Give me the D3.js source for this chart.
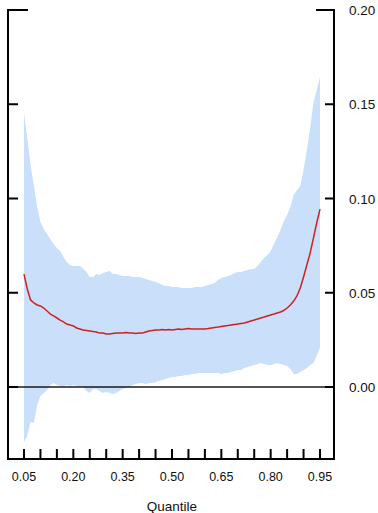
<!DOCTYPE html>
<html>
<head>
<meta charset="utf-8">
<script src="https://cdn.jsdelivr.net/npm/d3@7"></script>
<style>
  html, body { margin: 0; padding: 0; background: #fff; }
  svg { display: block; font-family: "Liberation Sans", Arial, sans-serif; }
</style>
</head>
<body>
<div id="chart"></div>
<script>
// quantile grid
const quantiles = [
  0.05, 0.06, 0.07, 0.08, 0.09, 0.10, 0.11, 0.12, 0.13, 0.14,
  0.15, 0.16, 0.17, 0.18, 0.19, 0.20, 0.21, 0.22, 0.23, 0.24,
  0.25, 0.26, 0.27, 0.28, 0.29, 0.30, 0.31, 0.32, 0.33, 0.34,
  0.35, 0.36, 0.37, 0.38, 0.39, 0.40, 0.41, 0.42, 0.43, 0.44,
  0.45, 0.46, 0.47, 0.48, 0.49, 0.50, 0.51, 0.52, 0.53, 0.54,
  0.55, 0.56, 0.57, 0.58, 0.59, 0.60, 0.61, 0.62, 0.63, 0.64,
  0.65, 0.66, 0.67, 0.68, 0.69, 0.70, 0.71, 0.72, 0.73, 0.74,
  0.75, 0.76, 0.77, 0.78, 0.79, 0.80, 0.81, 0.82, 0.83, 0.84,
  0.85, 0.86, 0.87, 0.88, 0.89, 0.90, 0.91, 0.92, 0.93, 0.94,
  0.95
];

// upper edge of the band
const upper = [
  0.1454, 0.1321, 0.1178, 0.1066, 0.0955, 0.0875, 0.0838, 0.0812, 0.0785, 0.0759,
  0.0737, 0.0721, 0.0690, 0.0663, 0.0647, 0.0642, 0.0642, 0.0642, 0.0626, 0.0610,
  0.0584, 0.0584, 0.0599, 0.0594, 0.0605, 0.0610, 0.0615, 0.0599, 0.0599, 0.0594,
  0.0589, 0.0589, 0.0589, 0.0584, 0.0584, 0.0584, 0.0578, 0.0573, 0.0568, 0.0562,
  0.0557, 0.0552, 0.0541, 0.0536, 0.0536, 0.0531, 0.0531, 0.0531, 0.0525, 0.0525,
  0.0525, 0.0525, 0.0531, 0.0531, 0.0531, 0.0536, 0.0541, 0.0546, 0.0552, 0.0568,
  0.0578, 0.0584, 0.0589, 0.0594, 0.0605, 0.0610, 0.0610, 0.0615, 0.0621, 0.0626,
  0.0626, 0.0642, 0.0663, 0.0684, 0.0700, 0.0721, 0.0759, 0.0796, 0.0833, 0.0881,
  0.0912, 0.0955, 0.1019, 0.1045, 0.1066, 0.1151, 0.1257, 0.1374, 0.1507, 0.1576,
  0.1645
];

// lower edge of the band
const lower = [
  -0.0292, -0.0260, -0.0186, -0.0191, -0.0095, -0.0048, -0.0032, -0.0016, 0.0011, 0.0021,
  0.0011, 0.0005, 0.0005, 0.0011, 0.0005, 0.0011, 0.0005, 0.0000, 0.0000, -0.0021,
  -0.0032, -0.0011, -0.0011, -0.0021, -0.0032, -0.0027, -0.0032, -0.0037, -0.0032, -0.0021,
  -0.0011, -0.0005, 0.0000, 0.0011, 0.0016, 0.0021, 0.0021, 0.0016, 0.0021, 0.0021,
  0.0027, 0.0032, 0.0037, 0.0042, 0.0048, 0.0053, 0.0053, 0.0058, 0.0058, 0.0064,
  0.0064, 0.0069, 0.0069, 0.0074, 0.0074, 0.0074, 0.0074, 0.0074, 0.0074, 0.0074,
  0.0069, 0.0074, 0.0074, 0.0080, 0.0085, 0.0090, 0.0090, 0.0101, 0.0106, 0.0111,
  0.0117, 0.0122, 0.0127, 0.0122, 0.0117, 0.0117, 0.0122, 0.0127, 0.0122, 0.0117,
  0.0111, 0.0095, 0.0069, 0.0069, 0.0080, 0.0090, 0.0101, 0.0117, 0.0127, 0.0164,
  0.0212
];

// central estimate (red line)
const median = [
  0.0599, 0.0520, 0.0462, 0.0446, 0.0435, 0.0430, 0.0419, 0.0403, 0.0387, 0.0377,
  0.0366, 0.0355, 0.0345, 0.0334, 0.0329, 0.0324, 0.0313, 0.0308, 0.0302, 0.0300,
  0.0297, 0.0294, 0.0292, 0.0286, 0.0286, 0.0281, 0.0281, 0.0284, 0.0286, 0.0286,
  0.0286, 0.0289, 0.0286, 0.0286, 0.0284, 0.0286, 0.0286, 0.0292, 0.0297, 0.0300,
  0.0302, 0.0302, 0.0305, 0.0302, 0.0305, 0.0302, 0.0305, 0.0308, 0.0305, 0.0308,
  0.0310, 0.0308, 0.0308, 0.0308, 0.0308, 0.0308, 0.0310, 0.0313, 0.0316, 0.0318,
  0.0321, 0.0324, 0.0326, 0.0329, 0.0332, 0.0334, 0.0337, 0.0340, 0.0345, 0.0350,
  0.0355, 0.0361, 0.0366, 0.0371, 0.0377, 0.0382, 0.0387, 0.0393, 0.0398, 0.0406,
  0.0419, 0.0435, 0.0456, 0.0483, 0.0525, 0.0584, 0.0647, 0.0711, 0.0790, 0.0870,
  0.0944
];

const xTicks = [0.05, 0.10, 0.15, 0.20, 0.25, 0.30, 0.35, 0.40, 0.45, 0.50,
                0.55, 0.60, 0.65, 0.70, 0.75, 0.80, 0.85, 0.90, 0.95];
const xLabels = [0.05, 0.20, 0.35, 0.50, 0.65, 0.80, 0.95];
const yTicks = [0.00, 0.05, 0.10, 0.15, 0.20];

const width = 378;
const height = 513;
const frame = { left: 8, right: 334, top: 10, bottom: 459 };

const svg = d3.select('#chart')
    .append('svg')
    .attr('width', width)
    .attr('height', height);

const x = d3.scaleLinear().domain([0.05, 0.95]).range([24, 320]);
const y = d3.scaleLinear().domain([0, 0.2]).range([387, 10]);

const rows = quantiles.map((q, i) => ({ q: q, lo: lower[i], hi: upper[i], mid: median[i] }));

// band
svg.append('path')
    .datum(rows)
    .attr('fill', '#c9dffa')
    .attr('d', d3.area()
        .x(d => x(d.q))
        .y0(d => y(d.lo))
        .y1(d => y(d.hi)));

// zero line
svg.append('line')
    .attr('x1', frame.left).attr('x2', frame.right)
    .attr('y1', y(0)).attr('y2', y(0))
    .attr('stroke', '#1a1a1a')
    .attr('stroke-width', 1.3);

// median line
svg.append('path')
    .datum(rows)
    .attr('fill', 'none')
    .attr('stroke', '#cc2222')
    .attr('stroke-width', 1.5)
    .attr('stroke-linejoin', 'round')
    .attr('d', d3.line()
        .x(d => x(d.q))
        .y(d => y(d.mid)));

// frame: left, right, bottom + short top pieces
const ink = '#000';
const frameG = svg.append('g')
    .attr('stroke', ink)
    .attr('stroke-width', 2)
    .attr('fill', 'none');

frameG.append('path')
    .attr('d', `M${frame.left + 20},${frame.top}H${frame.left}V${frame.bottom}H${frame.right + 1}`);
frameG.append('path')
    .attr('d', `M${frame.right - 18},${frame.top}H${frame.right}V${frame.bottom}`);

// y ticks (inward on both sides)
yTicks.forEach(t => {
    if (t === 0.20) return;
    frameG.append('line')
        .attr('x1', frame.left).attr('x2', frame.left + 10)
        .attr('y1', y(t)).attr('y2', y(t));
    frameG.append('line')
        .attr('x1', frame.right - 9).attr('x2', frame.right)
        .attr('y1', y(t)).attr('y2', y(t));
});

// x ticks
xTicks.forEach(t => {
    frameG.append('line')
        .attr('x1', x(t)).attr('x2', x(t))
        .attr('y1', frame.bottom - 10).attr('y2', frame.bottom);
});

// right tick labels
svg.append('g')
    .selectAll('text')
    .data(yTicks)
    .join('text')
    .attr('x', 349)
    .attr('y', d => y(d) + 5)
    .attr('font-size', 13.5)
    .attr('fill', '#111')
    .text(d => d3.format('.2f')(d));

// bottom tick labels
svg.append('g')
    .selectAll('text')
    .data(xLabels)
    .join('text')
    .attr('x', d => x(d))
    .attr('y', 481)
    .attr('text-anchor', 'middle')
    .attr('font-size', 12.5)
    .attr('fill', '#111')
    .text(d => d3.format('.2f')(d));

svg.append('text')
    .attr('x', 172)
    .attr('y', 511)
    .attr('text-anchor', 'middle')
    .attr('font-size', 13.5)
    .attr('fill', '#111')
    .text('Quantile');
</script>
</body>
</html>
